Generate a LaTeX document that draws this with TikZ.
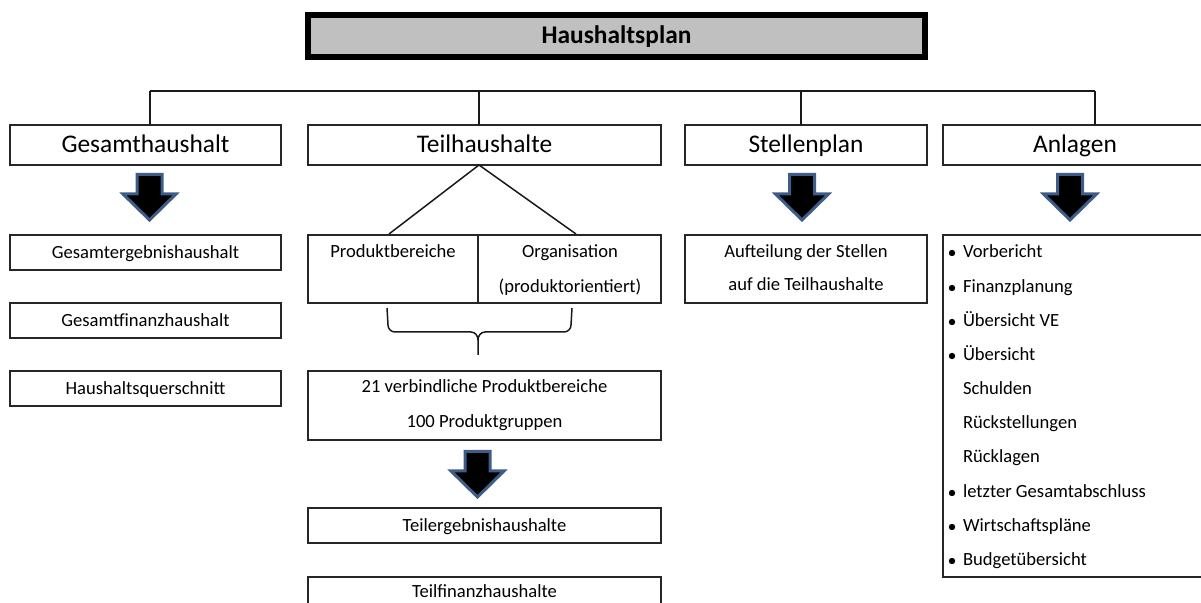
\documentclass[tikz,border=0pt]{standalone}
\usepackage{fontspec}
\setmainfont{Carlito}
\begin{document}
\begin{tikzpicture}[x=0.5pt,y=-0.5pt,
  box/.style={draw=black!85, line width=0.8pt, inner sep=0pt, outer sep=0pt},
  head/.style={box, font=\fontsize{12.7pt}{15pt}\selectfont, minimum height=20pt, text height=9.8pt, text depth=2.6pt},
  small/.style={inner sep=0pt, outer sep=0pt, font=\fontsize{9.3pt}{11pt}\selectfont, text height=7.2pt, text depth=1.5pt},
  sbox/.style={box, small, minimum height=17.5pt, minimum width=135.5pt},
  conn/.style={draw=black!90, line width=0.75pt},
  bulletdot/.style={circle, fill=black, inner sep=0pt, minimum size=3.2pt},
  arrowfill/.style={draw={rgb,255:red,61;green,93;blue,136}, fill=black, line width=1.5pt, line join=miter},
  barrow/.pic={\path[arrowfill] (-12.5,1.5) -- (12.5,1.5) -- (12.5,21) -- (26.5,21) -- (0,47) -- (-26.5,21) -- (-12.5,21) -- cycle;}
]
\useasboundingbox (0,0) rectangle (1201,603);
\clip (0,0) rectangle (1201,603);

% title
\node[draw=black, fill={rgb,255:red,192;green,192;blue,192}, line width=3pt, minimum width=308.5pt, minimum height=21pt, inner sep=0pt,
  text height=9.8pt, text depth=2.6pt,
  font=\bfseries\fontsize{12.7pt}{15pt}\selectfont] (title) at (616.5,36) {Haushaltsplan};

% headers
\node[head, minimum width=135.5pt] (gh) at (145.5,145) {Gesamthaushalt};
\node[head, minimum width=176.5pt] (th) at (484.5,145) {Teilhaushalte};
\node[head, minimum width=121pt] (sh) at (806,145) {Stellenplan};
\node[head, minimum width=132pt] (ah) at (1075,145) {Anlagen};

% bus
\coordinate (jg) at (150,91);
\coordinate (jt) at (479,91);
\coordinate (js) at (801,91);
\coordinate (ja) at (1095,91);
\draw[conn] (jg) -- (ja);
\draw[conn] (jg) -- (jg |- gh.north);
\draw[conn] (jt) -- (jt |- th.north);
\draw[conn] (js) -- (js |- sh.north);
\draw[conn] (ja) -- (ja |- ah.north);

% arrows
\pic at (149.5,173) {barrow};
\pic at (802,173) {barrow};
\pic at (1070,173) {barrow};
\pic at (477.5,450) {barrow};

% Gesamthaushalt column
\node[sbox] (g1) at (145.5,252.5) {Gesamtergebnishaushalt};
\node[sbox] (g2) at (145.5,320.5) {Gesamtfinanzhaushalt};
\node[sbox] (g3) at (145.5,388.5) {Haushaltsquerschnitt};

% Teilhaushalte column
\node[box, minimum width=85pt, minimum height=34pt] (pb) at (393,269) {};
\node[box, minimum width=91.5pt, minimum height=34pt] (org) at (569.5,269) {};
\node[small] (pbt) at (393,252) {Produktbereiche};
\node[small] (orgt1) at (570,252) {Organisation};
\node[small] (orgt2) at (570,287) {(produktorientiert)};
\coordinate (dl) at (389,234);
\coordinate (dr) at (576,234);
\draw[conn] (th.south -| jt) -- (dl);
\draw[conn] (th.south -| jt) -- (dr);

% brace
\coordinate (bl) at (387,308);
\coordinate (br) at (572,308);
\coordinate (bt) at (478,355);
\draw[conn, line join=round] (bl) -- (388,325) to[out=-90,in=180] (395,332) -- (471,332) to[out=0,in=90] (478,340) -- (bt);
\draw[conn, line join=round] (br) -- (571,325) to[out=-90,in=0] (564,332) -- (485,332) to[out=180,in=90] (478,340);

\node[box, minimum width=176.5pt, minimum height=34.5pt] (pg) at (484.5,405.5) {};
\node[small] (pgt1) at (484.5,387) {21 verbindliche Produktbereiche};
\node[small] (pgt2) at (484.5,422) {100 Produktgruppen};

\node[sbox, minimum width=176.5pt] (te) at (484.5,525.5) {Teilergebnishaushalte};
\node[box, minimum width=176.5pt, minimum height=17.5pt] (tf) at (484.5,594.5) {};
\node[small] (tft) at (484.5,592) {Teilfinanzhaushalte};

% Stellenplan column
\node[box, minimum width=121pt, minimum height=34pt] (sp) at (806,269) {};
\node[small] (spt1) at (806,252) {Aufteilung der Stellen};
\node[small] (spt2) at (806,285) {auf die Teilhaushalte};

% Anlagen column
\node[box, minimum width=132pt, minimum height=171pt] (an) at (1075,406) {};
\foreach \i/\yy/\t in {1/252/Vorbericht, 2/287/Finanzplanung, 3/321/Übersicht VE, 4/355/Übersicht,
  5/389/Schulden, 6/423/Rückstellungen, 7/457/Rücklagen, 8/492/letzter Gesamtabschluss,
  9/526/Wirtschaftspläne, 10/560/Budgetübersicht}
  \node[small, anchor=west] (it\i) at (963,\yy) {\t};
\foreach \i/\yy in {1/252,2/287,3/321,4/355,8/492,9/526,10/560}
  \node[bulletdot] (bu\i) at (952,\yy+1) {};
\end{tikzpicture}
\end{document}
